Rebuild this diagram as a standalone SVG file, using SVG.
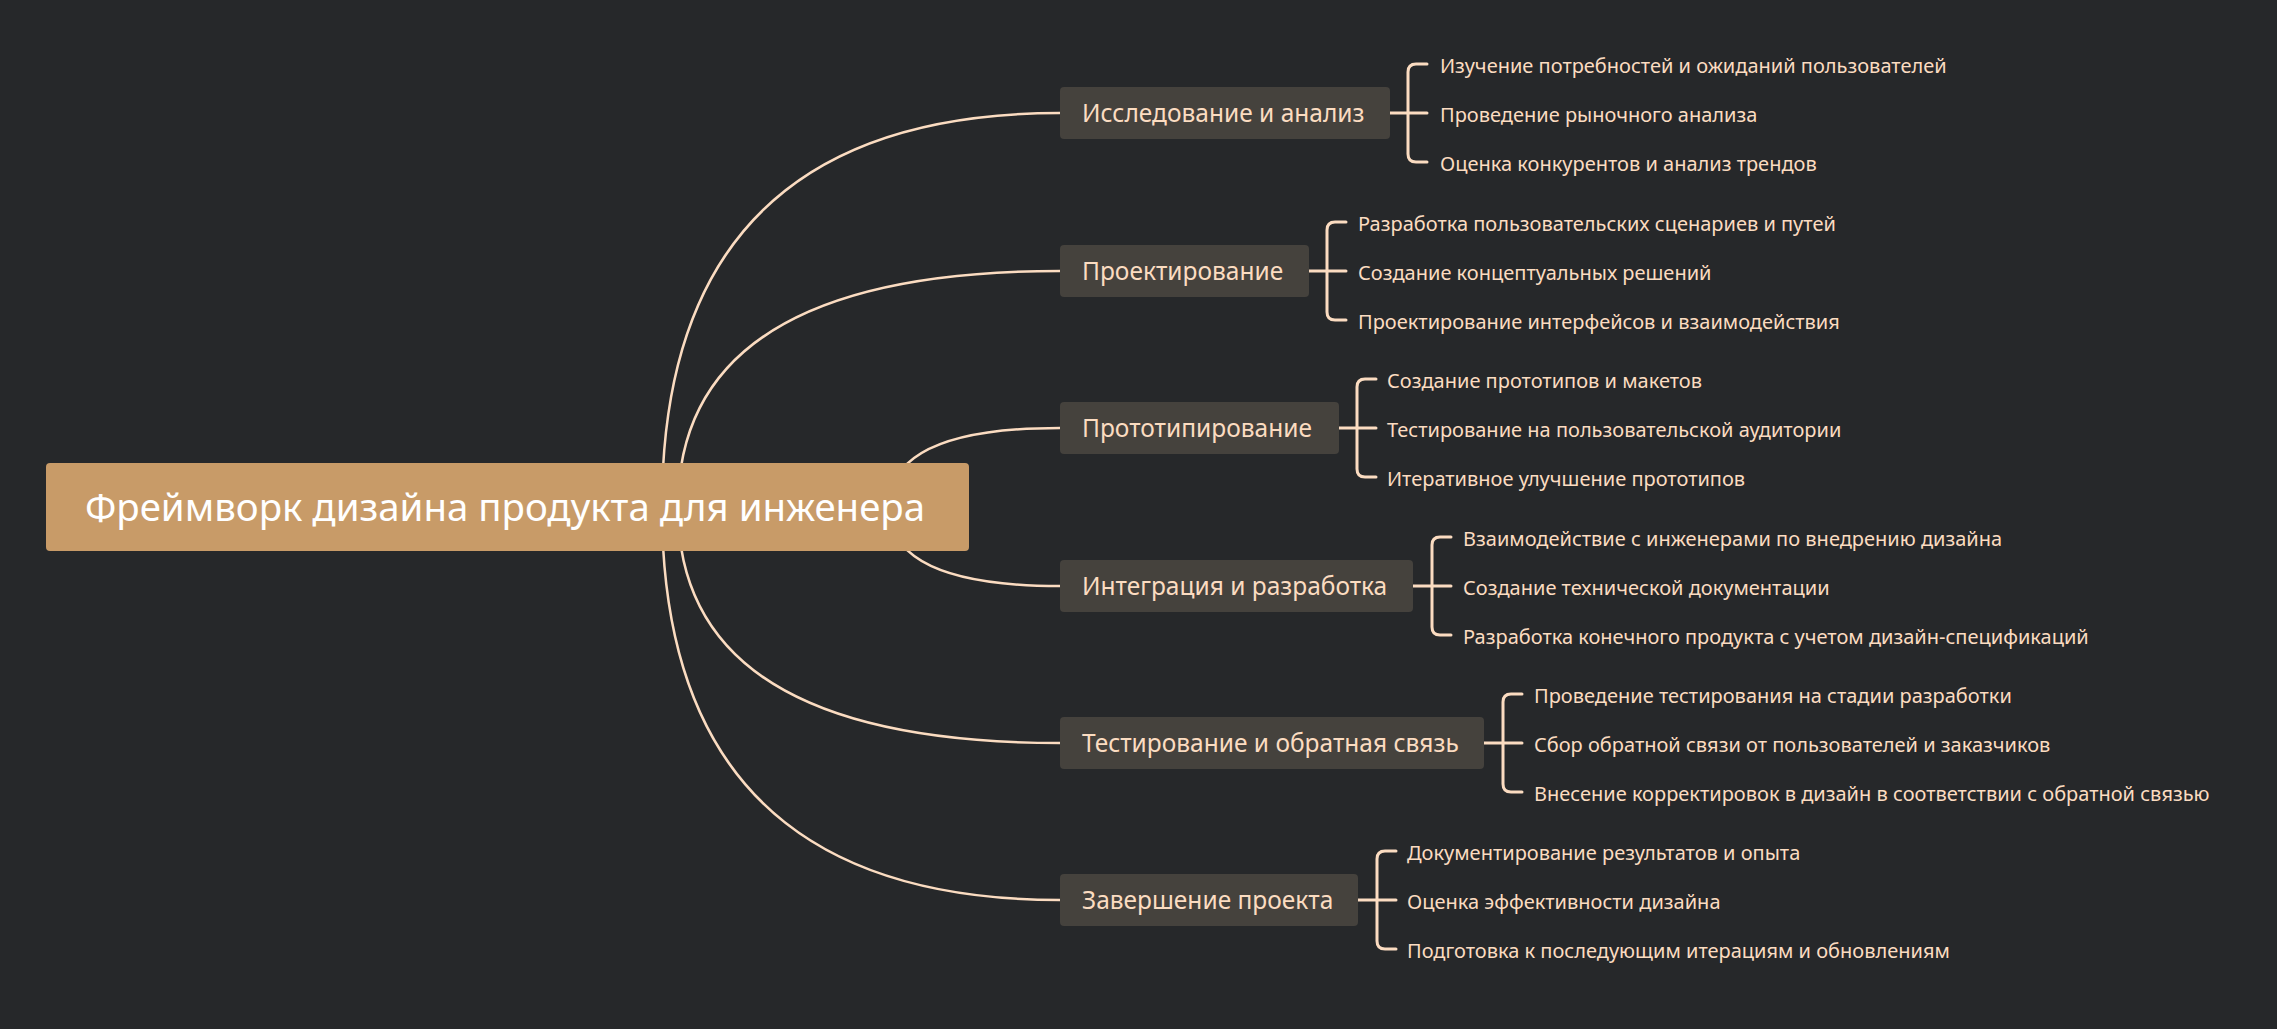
<svg xmlns="http://www.w3.org/2000/svg" width="2277" height="1029" viewBox="0 0 2277 1029">
<style>
.bg{fill:#26282a}
.root rect{fill:#c89b68}
.root text{fill:#ffffff;font-family:"Noto Sans","Open Sans",sans-serif;font-size:38.4px}
.main rect{fill:#45423d}
.main text{fill:#fbdcc1;font-family:"Noto Sans","Open Sans",sans-serif;font-size:24.5px}
.leaf{fill:#fbdcc1;font-family:"Noto Sans","Open Sans",sans-serif;font-size:20px}
.conn{fill:none;stroke:#fbdcc1;stroke-width:2.5}
.br{fill:none;stroke:#fbdcc1;stroke-width:3;stroke-linecap:round}
</style>
<rect class="bg" x="0" y="0" width="2277" height="1029"/>
<g id="connectors">
<path class="conn" d="M662 507 Q662 113 1060 113"/>
<path class="conn" d="M678 507 Q678 271 1060 271"/>
<path class="conn" d="M889 507 Q889 428 1060 428"/>
<path class="conn" d="M889 507 Q889 586 1060 586"/>
<path class="conn" d="M678 507 Q678 743 1060 743"/>
<path class="conn" d="M662 507 Q662 900 1060 900"/>
<path class="br" d="M1390 113 H1427 M1408 72 Q1408 64 1416 64 H1427 M1408 72 V154 Q1408 162 1416 162 H1427"/>
<path class="br" d="M1309 271 H1346 M1327 230 Q1327 222 1335 222 H1346 M1327 230 V312 Q1327 320 1335 320 H1346"/>
<path class="br" d="M1339 428 H1376 M1357 387 Q1357 379 1365 379 H1376 M1357 387 V469 Q1357 477 1365 477 H1376"/>
<path class="br" d="M1413 586 H1451 M1432 545 Q1432 537 1440 537 H1451 M1432 545 V627 Q1432 635 1440 635 H1451"/>
<path class="br" d="M1484 743 H1522 M1503 702 Q1503 694 1511 694 H1522 M1503 702 V784 Q1503 792 1511 792 H1522"/>
<path class="br" d="M1358 900 H1396 M1377 859 Q1377 851 1385 851 H1396 M1377 859 V941 Q1377 949 1385 949 H1396"/>
</g>
<g id="root" class="root">
<rect x="46" y="463" width="923" height="88" rx="4"/>
<text x="85" y="521">Фреймворк дизайна продукта для инженера</text>
</g>
<g id="n1" class="main">
<rect x="1060" y="87" width="330" height="52" rx="4"/>
<text x="1082" y="122">Исследование и анализ</text>
</g>
<g id="n1c">
<text class="leaf" x="1440" y="73">Изучение потребностей и ожиданий пользователей</text>
<text class="leaf" x="1440" y="122">Проведение рыночного анализа</text>
<text class="leaf" x="1440" y="171">Оценка конкурентов и анализ трендов</text>
</g>
<g id="n2" class="main">
<rect x="1060" y="245" width="249" height="52" rx="4"/>
<text x="1082" y="280">Проектирование</text>
</g>
<g id="n2c">
<text class="leaf" x="1358" y="231">Разработка пользовательских сценариев и путей</text>
<text class="leaf" x="1358" y="280">Создание концептуальных решений</text>
<text class="leaf" x="1358" y="329">Проектирование интерфейсов и взаимодействия</text>
</g>
<g id="n3" class="main">
<rect x="1060" y="402" width="279" height="52" rx="4"/>
<text x="1082" y="437">Прототипирование</text>
</g>
<g id="n3c">
<text class="leaf" x="1387" y="388">Создание прототипов и макетов</text>
<text class="leaf" x="1387" y="437">Тестирование на пользовательской аудитории</text>
<text class="leaf" x="1387" y="486">Итеративное улучшение прототипов</text>
</g>
<g id="n4" class="main">
<rect x="1060" y="560" width="353" height="52" rx="4"/>
<text x="1082" y="595">Интеграция и разработка</text>
</g>
<g id="n4c">
<text class="leaf" x="1463" y="546">Взаимодействие с инженерами по внедрению дизайна</text>
<text class="leaf" x="1463" y="595">Создание технической документации</text>
<text class="leaf" x="1463" y="644">Разработка конечного продукта с учетом дизайн-спецификаций</text>
</g>
<g id="n5" class="main">
<rect x="1060" y="717" width="424" height="52" rx="4"/>
<text x="1082" y="752">Тестирование и обратная связь</text>
</g>
<g id="n5c">
<text class="leaf" x="1534" y="703">Проведение тестирования на стадии разработки</text>
<text class="leaf" x="1534" y="752">Сбор обратной связи от пользователей и заказчиков</text>
<text class="leaf" x="1534" y="801">Внесение корректировок в дизайн в соответствии с обратной связью</text>
</g>
<g id="n6" class="main">
<rect x="1060" y="874" width="298" height="52" rx="4"/>
<text x="1082" y="909">Завершение проекта</text>
</g>
<g id="n6c">
<text class="leaf" x="1407" y="860">Документирование результатов и опыта</text>
<text class="leaf" x="1407" y="909">Оценка эффективности дизайна</text>
<text class="leaf" x="1407" y="958">Подготовка к последующим итерациям и обновлениям</text>
</g>
</svg>
